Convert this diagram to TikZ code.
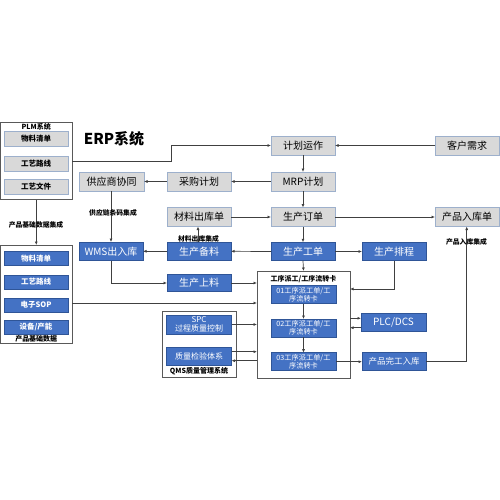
\documentclass[tikz,border=0pt]{standalone}
\usepackage{fontspec}
\setmainfont{Noto Sans CJK SC}
\usetikzlibrary{arrows.meta}
\definecolor{gfill}{HTML}{D9D9D9}
\definecolor{gdraw}{HTML}{9DB0CC}
\definecolor{bfill}{HTML}{4472C4}
\definecolor{bdraw}{HTML}{2F5597}
\definecolor{ln}{HTML}{404040}
\definecolor{cln}{HTML}{595959}
\begin{document}
\begin{tikzpicture}[x=1pt,y=-1pt,
  gbox/.style={draw=gdraw, fill=gfill, line width=0.8pt, inner sep=0pt, outer sep=0pt,
    minimum width=64pt, minimum height=19pt, font=\fontsize{10}{11}\selectfont},
  bbox/.style={draw=bdraw, fill=bfill, text=white, line width=0.8pt, inner sep=0pt, outer sep=0pt,
    minimum width=64pt, minimum height=18.5pt, font=\fontsize{10}{11}\selectfont},
  pbox/.style={gbox, minimum width=64pt, minimum height=14.5pt, font=\bfseries\fontsize{7.5}{8}\selectfont},
  qbox/.style={bbox, minimum width=64pt, minimum height=14pt, font=\bfseries\fontsize{7.5}{8}\selectfont},
  wbox/.style={bbox, minimum width=65pt, minimum height=18pt, align=center, font=\fontsize{7.2}{8.2}\selectfont},
  cont/.style={draw=cln, line width=0.9pt, inner sep=0pt, outer sep=0pt},
  arr/.style={draw=ln, line width=0.7pt, -{Latex[length=3.5pt,width=3pt]}},
  lab/.style={font=\bfseries\fontsize{6.8}{7.5}\selectfont, inner sep=0.5pt},
  ttl/.style={font=\bfseries\fontsize{7}{8}\selectfont, inner sep=0.5pt}]
\useasboundingbox (0,0) rectangle (500,500);
\fill[white] (0,0) rectangle (500,500);

% containers
\node[cont, minimum width=71.5pt, minimum height=77pt] (plm) at (36.25,161.4) {};
\node[ttl] (plmt) at (36.25,127.3) {PLM系统};
\node[cont, minimum width=71.5pt, minimum height=98pt] (pb) at (36.25,294) {};
\node[ttl] (pbt) at (36.25,339) {产品基础数据};
\node[cont, minimum width=93pt, minimum height=107pt] (wf) at (303.5,324.5) {};
\node[ttl] (wft) at (303.5,279) {工序派工/工序流转卡};
\node[cont, minimum width=74pt, minimum height=66pt] (qms) at (199,344) {};
\node[ttl] (qmst) at (199,371.3) {QMS质量管理系统};

\node[font=\bfseries\fontsize{15}{17}\selectfont, inner sep=0pt] (erp) at (114,138.5) {ERP系统};

% PLM inner
\node[pbox] (p1) at (36,139) {物料清单};
\node[pbox] (p2) at (36,164) {工艺路线};
\node[pbox] (p3) at (36,187) {工艺文件};
% product data inner
\node[qbox] (q1) at (36,258.7) {物料清单};
\node[qbox] (q2) at (36,282) {工艺路线};
\node[qbox] (q3) at (36,305) {电子SOP};
\node[qbox] (q4) at (36,327.2) {设备/产能};

% gray boxes
\node[gbox] (jh) at (303,145.5) {计划运作};
\node[gbox] (kh) at (467,145.5) {客户需求};
\node[gbox] (mrp) at (303,181.5) {MRP计划};
\node[gbox] (cg) at (199,181.5) {采购计划};
\node[gbox, minimum width=65pt] (gys) at (111.5,181.5) {供应商协同};
\node[gbox] (clck) at (199,217) {材料出库单};
\node[gbox] (scdd) at (303,217) {生产订单};
\node[gbox] (cprk) at (467,217) {产品入库单};

% blue boxes
\node[bbox] (wms) at (111,251.3) {WMS出入库};
\node[bbox] (scbl) at (199,251.3) {生产备料};
\node[bbox] (scgd) at (303,251.5) {生产工单};
\node[bbox] (scpc) at (394,251.5) {生产排程};
\node[bbox, minimum height=17pt] (scsl) at (199,283) {生产上料};

\node[wbox] (w1) at (303.5,294.5) {01工序派工单/工\\序流转卡};
\node[wbox] (w2) at (303.5,328) {02工序派工单/工\\序流转卡};
\node[wbox] (w3) at (303.5,361.7) {03工序派工单/工\\序流转卡};

\node[bbox, minimum width=65pt, minimum height=18pt] (plc) at (393.5,322) {PLC/DCS};
\node[bbox, minimum height=18pt, font=\fontsize{8.5}{10}\selectfont] (wg) at (394,361.7) {产品完工入库};

\node[bbox, minimum width=65pt, minimum height=19pt, align=center, font=\fontsize{8}{9}\selectfont] (spc) at (199,324.5) {SPC\\过程质量控制};
\node[bbox, minimum width=65pt, minimum height=18pt, font=\fontsize{8}{9}\selectfont] (zj) at (199,356) {质量检验体系};

% helper coordinates
\coordinate (c1) at (171.7,161.7);
\coordinate (c2) at (111,283);
\coordinate (c3) at (394,289);
\coordinate (c4) at (466.7,361.7);
\coordinate (ysop) at (0,303);
\coordinate (yp1) at (0,318.3);
\coordinate (yp2) at (0,327.7);
\coordinate (yz1) at (0,351.7);
\coordinate (yz2) at (0,360.7);

% connectors
\draw[arr] (plm.east |- c1) -- (c1) -- (c1 |- jh.west) -- (jh.west);
\draw[arr] (kh.west) -- (jh.east);
\draw[arr] (jh.south) -- (mrp.north);
\draw[arr] (mrp.west) -- (cg.east);
\draw[arr] (cg.west) -- (gys.east);
\draw[arr] (mrp.south) -- (scdd.north);
\draw[arr] (clck.east) -- (scdd.west);
\draw[arr] (scdd.east) -- (cprk.west);
\draw[arr] (scdd.south) -- (scgd.north);
\draw[arr] (gys.south -| wms.north) -- (wms.north);
\draw[arr] ([xshift=-1pt]scbl.north) -- ([xshift=-1pt]clck.south);
\draw[arr] (scgd.west) -- (scbl.east);
\draw[arr] (scbl.west) -- (wms.east);
\draw[arr] (scgd.east) -- (scpc.west);
\draw[arr] (wms.south) -- (c2) -- (scsl.west);
\draw[arr] (scsl.east) -- (scsl.east -| wf.west);
\draw[arr] (pb.east |- ysop) -- (wf.west |- ysop);
\draw[arr] (scgd.south) -- (wf.north);
\draw[arr] (scpc.south) -- (c3) -- (c3 -| wf.east);
\draw[arr] (w1.south) -- (w2.north);
\draw[arr] (w2.south) -- (w3.north);
\draw[arr] (wf.east |- yp1) -- (plc.west |- yp1);
\draw[arr] (plc.west |- yp2) -- (wf.east |- yp2);
\draw[arr] (w3.east) -- (wg.west);
\draw[arr] (wg.east) -- (c4) -- (c4 |- cprk.south);
\draw[arr] (spc.east) -- (spc.east -| wf.west);
\draw[arr] (zj.east |- yz1) -- (wf.west |- yz1);
\draw[arr] (wf.west |- yz2) -- (zj.east |- yz2);
\draw[arr] (plm.south) -- (pb.north);

% labels
\node[lab] (l1) at (113,212.7) {供应链条码集成};
\node[lab] (l2) at (198.5,239) {材料出库集成};
\node[lab] (l3) at (466.5,242.3) {产品入库集成};
\node[lab] (l4) at (36,225) {产品基础数据集成};
\end{tikzpicture}
\end{document}
